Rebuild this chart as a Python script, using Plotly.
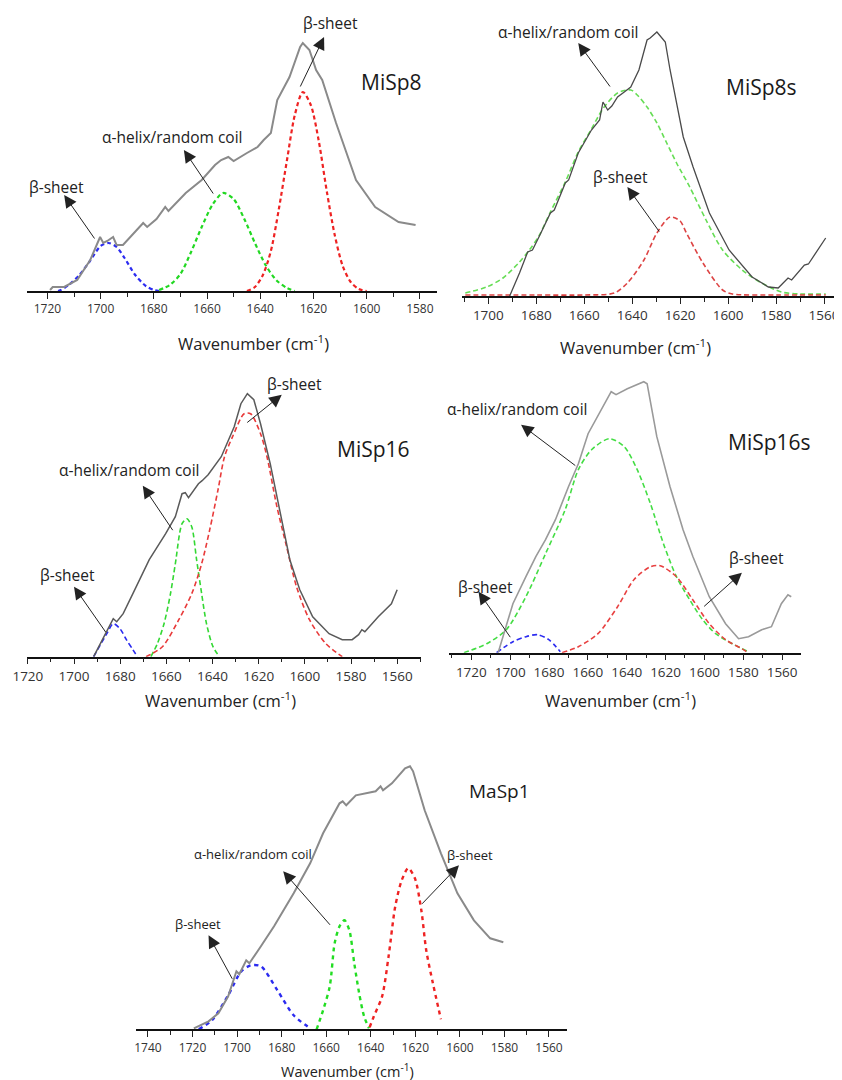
import plotly.graph_objects as go

# ---------------- DATA (wavenumber cm-1, absorbance a.u.) ----------------
# MiSp8
misp8_wn = [1719, 1718, 1713.7, 1708.8, 1703.9, 1700.2, 1699, 1697.5, 1695.3, 1694, 1691.6, 1688, 1684, 1682.5,
            1679, 1675.7, 1674.5, 1668, 1662, 1657, 1654.7, 1652, 1650, 1645, 1641, 1638.7, 1636, 1633.6, 1629,
            1625, 1624, 1621.5, 1619, 1616.7, 1611.5, 1604, 1596.8, 1588, 1581.6]
misp8_abs = [0.01, 0.04, 0.04, 0.11, 0.31, 0.54, 0.48, 0.50, 0.54, 0.46, 0.46, 0.56, 0.68, 0.64, 0.72, 0.84, 0.80,
             0.98, 1.11, 1.26, 1.31, 1.34, 1.30, 1.38, 1.44, 1.51, 1.58, 1.91, 2.14, 2.44, 2.48, 2.41, 2.21, 2.11,
             1.68, 1.11, 0.84, 0.69, 0.66]
misp8_beta1_wn = [1716, 1715, 1712, 1708, 1704, 1700, 1697, 1694, 1691, 1687, 1683, 1680, 1678]
misp8_beta1_abs = [0, 0.01, 0.06, 0.16, 0.30, 0.45, 0.48, 0.44, 0.33, 0.16, 0.05, 0.01, 0]
misp8_helix_wn = [1678, 1674, 1670, 1666, 1662, 1658, 1654, 1650, 1646, 1642, 1638, 1634, 1630, 1627]
misp8_helix_abs = [0.01, 0.06, 0.17, 0.39, 0.64, 0.86, 0.98, 0.92, 0.72, 0.48, 0.26, 0.11, 0.03, 0]
misp8_beta2_wn = [1645, 1642, 1639, 1636, 1633, 1630, 1627, 1624, 1621, 1618, 1615, 1612, 1609, 1606, 1603, 1600]
misp8_beta2_abs = [0, 0.04, 0.16, 0.40, 0.82, 1.30, 1.76, 1.99, 1.86, 1.50, 1.00, 0.56, 0.25, 0.09, 0.02, 0]

# MiSp8s
misp8s_wn = [1691.1, 1687, 1683.6, 1681.6, 1678.9, 1674.1, 1672.5, 1667.9, 1666.5, 1662.5, 1657, 1653.6, 1652.2,
             1650.2, 1648.5, 1646.1, 1643.3, 1640.6, 1637.2, 1635.1, 1633.8, 1632.5, 1629.7, 1626.2, 1624.2, 1618.7,
             1614.6, 1607.8, 1599.6, 1590, 1583.2, 1579.1, 1575, 1573.5, 1568.2, 1566.5, 1562.7, 1559.3]
misp8s_abs = [0, 0.23, 0.44, 0.46, 0.59, 0.83, 0.86, 1.13, 1.16, 1.43, 1.66, 1.76, 1.94, 1.86, 1.90, 1.99, 2.04,
              2.09, 2.26, 2.43, 2.56, 2.58, 2.64, 2.54, 2.26, 1.59, 1.29, 0.83, 0.46, 0.19, 0.09, 0.08, 0.18, 0.16,
              0.31, 0.32, 0.46, 0.58]
misp8s_helix_wn = [1709.6, 1700.7, 1693.9, 1687, 1682.9, 1678.9, 1674.1, 1667.9, 1662.5, 1657, 1652, 1646.1, 1640.6,
                   1637.9, 1633.8, 1629.7, 1625.6, 1621.5, 1616, 1609.2, 1602.3, 1594.1, 1586, 1577.8, 1570, 1559.3]
misp8s_helix_abs = [0.03, 0.09, 0.18, 0.34, 0.46, 0.60, 0.84, 1.14, 1.44, 1.67, 1.88, 2.03, 2.06, 2.01, 1.89, 1.73,
                    1.53, 1.33, 1.09, 0.76, 0.46, 0.26, 0.13, 0.04, 0.02, 0.02]
misp8s_beta_wn = [1709.6, 1680, 1660, 1647.4, 1642, 1635.1, 1629.7, 1624.2, 1620, 1617.4, 1610.5, 1602.3, 1598.2,
                  1580, 1559.3]
misp8s_beta_abs = [0.01, 0.01, 0.01, 0.03, 0.13, 0.36, 0.63, 0.79, 0.75, 0.63, 0.33, 0.06, 0.02, 0.01, 0.01]

# MiSp16
misp16_wn = [1691.5, 1687.2, 1683, 1681.5, 1678.7, 1674.5, 1673.1, 1667.4, 1660.3, 1656.1, 1653.2, 1651.8, 1650.4,
             1646.1, 1644.5, 1641.9, 1636.2, 1633.4, 1630.6, 1627.7, 1624.9, 1622.1, 1619.2, 1615, 1610.7, 1606.5,
             1602.2, 1596.6, 1589.5, 1583.8, 1579.5, 1576.7, 1575.3, 1574, 1568.2, 1562.5, 1560]
misp16_abs = [0, 0.20, 0.38, 0.35, 0.43, 0.63, 0.70, 0.97, 1.23, 1.40, 1.63, 1.64, 1.59, 1.73, 1.76, 1.82, 2.00,
              2.15, 2.30, 2.53, 2.63, 2.57, 2.33, 1.93, 1.43, 0.97, 0.67, 0.40, 0.23, 0.17, 0.17, 0.22, 0.27, 0.25,
              0.40, 0.53, 0.67]
misp16_beta1_wn = [1691.5, 1685.8, 1683, 1680.1, 1677.3, 1674.5, 1672.5]
misp16_beta1_abs = [0, 0.23, 0.33, 0.28, 0.17, 0.07, 0]
misp16_helix_wn = [1666.7, 1663.9, 1661, 1658.2, 1656.1, 1653.2, 1651.1, 1649, 1646.9, 1644.7, 1642.6, 1639.8, 1637]
misp16_helix_abs = [0, 0.13, 0.33, 0.63, 0.93, 1.33, 1.38, 1.30, 0.97, 0.63, 0.33, 0.10, 0]
misp16_beta2_wn = [1668.8, 1661.7, 1654.6, 1649, 1644.7, 1641.2, 1637.6, 1634.8, 1631.3, 1626.3, 1623.5, 1619.2,
                   1616.4, 1612.1, 1607.9, 1603.6, 1598, 1590.9, 1583.8]
misp16_beta2_abs = [0, 0.10, 0.37, 0.63, 0.93, 1.27, 1.67, 2.00, 2.20, 2.43, 2.43, 2.23, 2.00, 1.50, 1.10, 0.70,
                    0.37, 0.13, 0]

# MiSp16s
misp16s_wn = [1706.2, 1702.8, 1698.6, 1691.9, 1686.8, 1681.8, 1676.7, 1670, 1664.9, 1659.9, 1653.1, 1648, 1645.5,
              1639.7, 1631.2, 1629.5, 1624.5, 1617.7, 1611, 1605.9, 1597.5, 1589.1, 1582.4, 1577.3, 1570.5, 1565.5,
              1560.4, 1557, 1555.3]
misp16s_abs = [0, 0.23, 0.49, 0.76, 0.96, 1.13, 1.33, 1.66, 1.89, 2.19, 2.43, 2.61, 2.58, 2.64, 2.71, 2.69, 2.16,
               1.66, 1.23, 0.96, 0.56, 0.29, 0.14, 0.16, 0.23, 0.26, 0.49, 0.58, 0.56]
misp16s_beta1_wn = [1707, 1698.6, 1691.9, 1686, 1680.1, 1674.2]
misp16s_beta1_abs = [0, 0.11, 0.16, 0.18, 0.13, 0.01]
misp16s_helix_wn = [1723.8, 1712.1, 1702, 1691.9, 1681.8, 1671.7, 1664.9, 1658.1, 1648.9, 1641.3, 1634.6, 1627.8,
                    1621.1, 1614.4, 1607.6, 1600.9, 1594.2, 1585.7, 1577.3]
misp16s_helix_abs = [0, 0.09, 0.23, 0.56, 0.99, 1.43, 1.83, 2.03, 2.14, 2.06, 1.83, 1.49, 1.09, 0.76, 0.53, 0.33,
                     0.19, 0.09, 0.01]
misp16s_beta2_wn = [1673.3, 1664.9, 1654.8, 1644.7, 1636.3, 1627.8, 1622.8, 1614.4, 1606, 1597.5, 1589.1, 1580.7,
                    1577.5]
misp16s_beta2_abs = [0, 0.06, 0.19, 0.46, 0.73, 0.86, 0.87, 0.76, 0.53, 0.29, 0.13, 0.04, 0]

# MaSp1
masp1_wn = [1719.4, 1712.8, 1708.4, 1704, 1700.3, 1699, 1695.9, 1694.5, 1689.3, 1683.4, 1674.6, 1667.2, 1661.4,
            1654, 1652.6, 1651, 1646.7, 1637.8, 1635.6, 1634.5, 1630.5, 1624.6, 1622.4, 1621, 1615.8, 1608.5,
            1601.1, 1593.7, 1586.4, 1580.5]
masp1_abs = [0.01, 0.08, 0.16, 0.33, 0.58, 0.55, 0.69, 0.66, 0.83, 1.03, 1.36, 1.66, 1.96, 2.26, 2.28, 2.24, 2.34,
             2.38, 2.43, 2.39, 2.46, 2.61, 2.63, 2.58, 2.19, 1.76, 1.36, 1.09, 0.91, 0.87]
masp1_beta1_wn = [1717.2, 1711.3, 1704, 1698.1, 1693.7, 1689.3, 1681.9, 1674.6, 1667.2]
masp1_beta1_abs = [0, 0.09, 0.34, 0.58, 0.64, 0.63, 0.39, 0.14, 0.01]
masp1_helix_wn = [1664.3, 1661.4, 1658.4, 1656.2, 1654, 1651.8, 1649.6, 1647.4, 1645.2, 1643, 1640.8]
masp1_helix_abs = [0, 0.19, 0.43, 0.86, 1.03, 1.09, 0.99, 0.66, 0.36, 0.13, 0.01]
masp1_beta2_wn = [1640.5, 1638.6, 1634.9, 1632, 1629, 1626.1, 1623.2, 1620.2, 1617.3, 1615.1, 1612.1, 1608.5]
masp1_beta2_abs = [0.02, 0.13, 0.33, 0.73, 1.23, 1.49, 1.61, 1.51, 1.19, 0.79, 0.46, 0.10]

sample_names = ["MiSp8", "MiSp8s", "MiSp16", "MiSp16s", "MaSp1"]
helix_label = "α-helix/random coil"
beta_label = "β-sheet"
x_title = "Wavenumber (cm<sup>-1</sup>)"

# ---------------- LAYOUT / STYLE ----------------
PAGE_W, PAGE_H = 842, 1080
OFF = 8                      # default page (body) margin around the plot div
W, H = PAGE_W - OFF, PAGE_H - OFF
FONT = "Open Sans"
BLUE, GREEN, RED = "#2b2bf0", "#22d822", "#ee2222"

panels = [
    dict(name=sample_names[0], obs=(misp8_wn, misp8_abs),
         comps=[(misp8_beta1_wn, misp8_beta1_abs, BLUE), (misp8_helix_wn, misp8_helix_abs, GREEN),
                (misp8_beta2_wn, misp8_beta2_abs, RED)],
         xpx=(12, 430), ypx=(8, 291), xr=[1727.7, 1573.4], yr=[0, 2.83], obs_col="#8a8a8a", obs_w=2.0,
         dash="4px,3px", cw=2.2, tfs=12, lw=2, title_px=(243, 343), tsz=16.5, asz=15.5, nsz=21,
         name_pos=(1590.8, 2.09),
         labels=[(beta_label, 1716.7, 1.04, 1713.7, 0.96, 1701.9, 0.51),
                 (helix_label, 1673.1, 1.54, 1668.7, 1.41, 1657.3, 0.96),
                 (beta_label, 1613.4, 2.68, 1616.0, 2.54, 1625.2, 2.03)]),
    dict(name=sample_names[1], obs=(misp8s_wn, misp8s_abs),
         comps=[(misp8s_helix_wn, misp8s_helix_abs, "#66dd55"), (misp8s_beta_wn, misp8s_beta_abs, "#dd4444")],
         xpx=(455, 842), ypx=(8, 296), xr=[1711, 1552.5], yr=[0, 2.88], obs_col="#4a4a4a", obs_w=1.3,
         dash="5px,3px", cw=1.6, tfs=13.5, lw=1.5, title_px=(631.7, 347), tsz=16.5, asz=15.5, nsz=21,
         name_pos=(1585.9, 2.09),
         labels=[(helix_label, 1666.7, 2.64, 1662.5, 2.53, 1648.8, 2.08),
                 (beta_label, 1644.7, 1.19, 1642.0, 1.09, 1628.3, 0.63)]),
    dict(name=sample_names[2], obs=(misp16_wn, misp16_abs),
         comps=[(misp16_beta1_wn, misp16_beta1_abs, BLUE), (misp16_helix_wn, misp16_helix_abs, "#33d833"),
                (misp16_beta2_wn, misp16_beta2_abs, "#e83a3a")],
         xpx=(12, 413), ypx=(380, 656.7), xr=[1720.4, 1549.8], yr=[0, 2.767], obs_col="#5a5a5a", obs_w=1.5,
         dash="5px,3px", cw=1.6, tfs=13.5, lw=1.5, title_px=(209, 700), tsz=16.5, asz=15.5, nsz=21,
         name_pos=(1570.3, 2.08),
         labels=[(beta_label, 1702.8, 0.82, 1700.0, 0.70, 1685.8, 0.23),
                 (helix_label, 1675.9, 1.87, 1670.2, 1.71, 1656.8, 1.25),
                 (beta_label, 1604.3, 2.73, 1610.0, 2.62, 1625.6, 2.33)]),
    dict(name=sample_names[3], obs=(misp16s_wn, misp16s_abs),
         comps=[(misp16s_beta1_wn, misp16s_beta1_abs, BLUE), (misp16s_helix_wn, misp16s_helix_abs, "#44dd44"),
                (misp16s_beta2_wn, misp16s_beta2_abs, "#e84040")],
         xpx=(442, 800), ypx=(380, 652.7), xr=[1731.4, 1550.4], yr=[0, 2.727], obs_col="#9a9a9a", obs_w=1.6,
         dash="5px,3px", cw=1.6, tfs=13.5, lw=1.5, title_px=(616, 700), tsz=16.5, asz=15.5, nsz=21,
         name_pos=(1566.4, 2.11),
         labels=[(helix_label, 1696.0, 2.44, 1694.4, 2.28, 1665.7, 1.86),
                 (beta_label, 1573.1, 0.95, 1580.7, 0.80, 1600.9, 0.45),
                 (beta_label, 1712.9, 0.66, 1716.3, 0.61, 1699.4, 0.14)]),
    dict(name=sample_names[4], obs=(masp1_wn, masp1_abs),
         comps=[(masp1_beta1_wn, masp1_beta1_abs, BLUE), (masp1_helix_wn, masp1_helix_abs, "#22dd22"),
                (masp1_beta2_wn, masp1_beta2_abs, RED)],
         xpx=(123, 562), ypx=(760, 1029.3), xr=[1745.4, 1551.9], yr=[0, 2.693], obs_col="#8a8a8a", obs_w=2.0,
         dash="4px,4px", cw=2.4, tfs=12, lw=2, title_px=(338.7, 1070), tsz=14.5, asz=13, nsz=19,
         name_pos=(1582.0, 2.38),
         labels=[(beta_label, 1717.5, 1.05, 1712.8, 0.94, 1701.8, 0.49),
                 (helix_label, 1693.0, 1.75, 1679.3, 1.58, 1657.7, 1.03),
                 (beta_label, 1595.5, 1.74, 1600.4, 1.64, 1617.6, 1.24)]),
]


def px_x(px):
    return (px - OFF) / W


def px_y(py):
    return 1 - (py - OFF) / H


fig = go.Figure()
annotations = []
layout = dict(width=W, height=H, margin=dict(l=0, r=0, t=0, b=0), paper_bgcolor="white",
              plot_bgcolor="rgba(0,0,0,0)", showlegend=False)

for i, p in enumerate(panels, start=1):
    sfx = "" if i == 1 else str(i)
    xa, ya = "x" + sfx, "y" + sfx
    for cwn, cab, col in p["comps"]:
        fig.add_trace(go.Scatter(x=cwn, y=cab, mode="lines", xaxis=xa, yaxis=ya, hoverinfo="skip",
                                 line=dict(color=col, width=p["cw"], dash=p["dash"], shape="spline", smoothing=0.8)))
    fig.add_trace(go.Scatter(x=p["obs"][0], y=p["obs"][1], mode="lines", xaxis=xa, yaxis=ya, hoverinfo="skip",
                             line=dict(color=p["obs_col"], width=p["obs_w"])))
    layout["xaxis" + sfx] = dict(
        domain=[max(0.0, px_x(p["xpx"][0])), min(1.0, px_x(p["xpx"][1]))], range=p["xr"], anchor=ya,
        showline=True, linecolor="#111", linewidth=p["lw"], showgrid=False, zeroline=False,
        ticks="outside", ticklen=6, tickwidth=1.3, tickcolor="#222", tick0=1560, dtick=20,
        ticklabeloverflow="allow",
        minor=dict(tick0=1560, dtick=10, ticks="outside", ticklen=4, tickwidth=1, tickcolor="#222", showgrid=False),
        tickfont=dict(family=FONT, size=p["tfs"], color="#333"), fixedrange=True)
    layout["yaxis" + sfx] = dict(
        domain=[max(0.0, px_y(p["ypx"][1])), min(1.0, px_y(p["ypx"][0]))], range=p["yr"], anchor=xa,
        visible=False, fixedrange=True)
    # axis title
    annotations.append(dict(text=x_title, xref="paper", yref="paper", x=px_x(p["title_px"][0]),
                            y=px_y(p["title_px"][1]), xanchor="center", yanchor="middle", showarrow=False,
                            font=dict(family=FONT, size=p["tsz"], color="#222")))
    # sample name
    annotations.append(dict(text=p["name"], xref=xa, yref=ya, x=p["name_pos"][0], y=p["name_pos"][1],
                            xanchor="center", yanchor="middle", showarrow=False,
                            font=dict(family=FONT, size=p["nsz"], color="#1a1a1a")))
    for txt, tx, ty, hx, hy, sx, sy in p["labels"]:
        annotations.append(dict(text=txt, xref=xa, yref=ya, x=tx, y=ty, xanchor="center", yanchor="middle",
                                showarrow=False, font=dict(family=FONT, size=p["asz"], color="#222")))
        annotations.append(dict(text="", xref=xa, yref=ya, x=hx, y=hy, axref=xa, ayref=ya, ax=sx, ay=sy,
                                showarrow=True, arrowhead=2, arrowsize=2.5, arrowwidth=1, arrowcolor="#222",
                                standoff=0, startstandoff=0))

layout["annotations"] = annotations
fig.update_layout(**layout)
fig.write_html("out.html", config={"displayModeBar": False})
